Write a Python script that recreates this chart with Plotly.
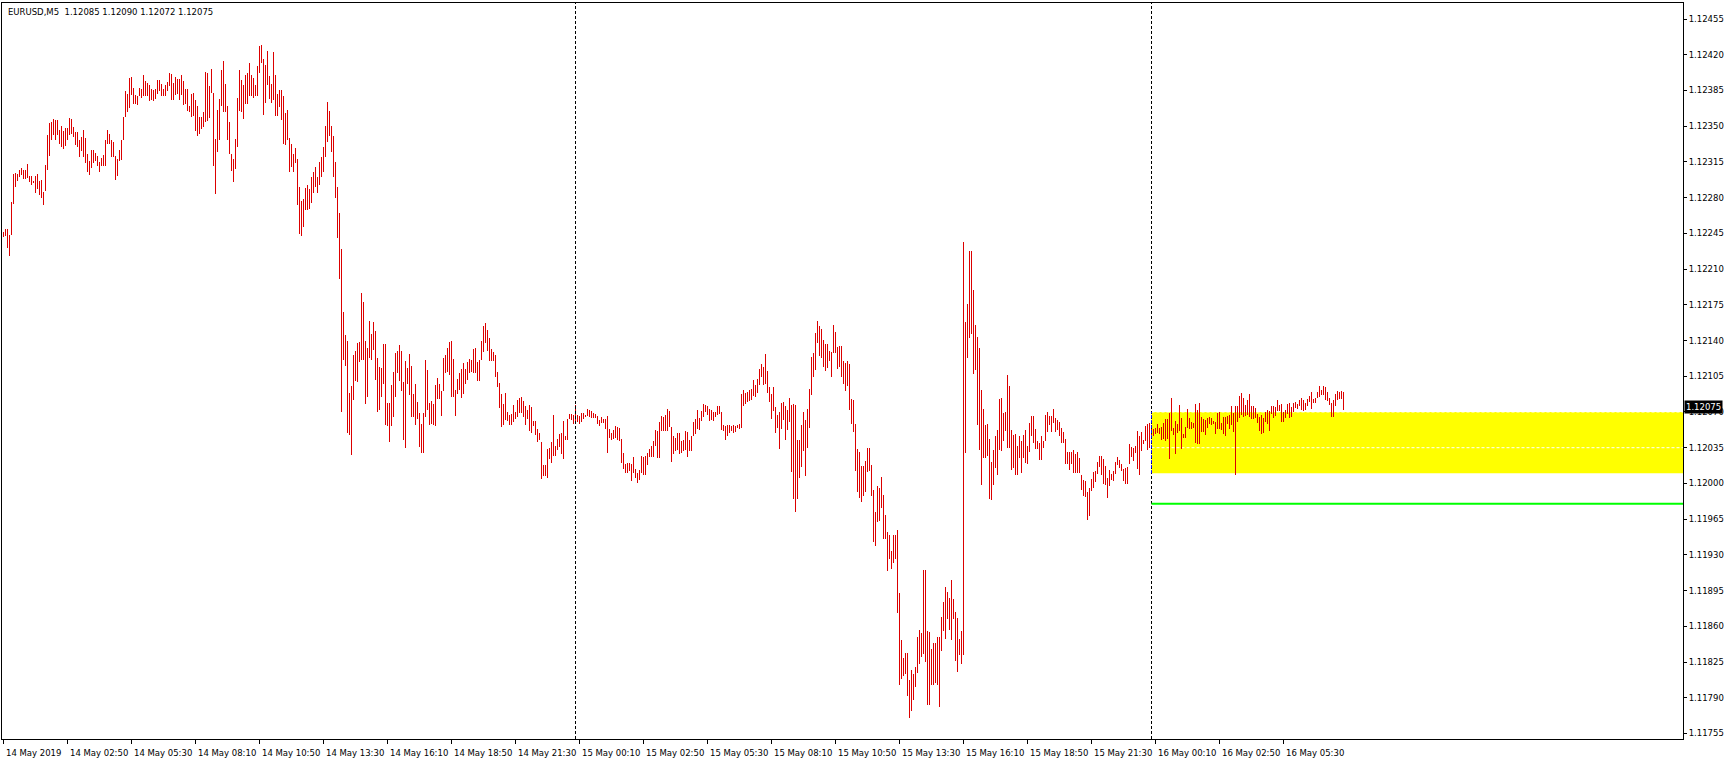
import plotly.graph_objects as go

# EURUSD M5, bar index 0 = 14 May 2019 00:10
# highs / lows in points above 1.11000 (1 point = 0.00001)
bar_high_pts = [
    1246, 1249, 1249, 1243, 1276, 1303, 1304, 1303, 1307, 1309,
    1307, 1307, 1313, 1301, 1301, 1296, 1301, 1303, 1296, 1297,
    1286, 1312, 1341, 1353, 1354, 1357, 1356, 1356, 1346, 1350,
    1345, 1348, 1348, 1358, 1357, 1349, 1344, 1344, 1336, 1339,
    1346, 1338, 1323, 1316, 1327, 1327, 1324, 1321, 1315, 1319,
    1322, 1336, 1346, 1342, 1336, 1335, 1321, 1318, 1327, 1336,
    1359, 1384, 1382, 1397, 1398, 1387, 1381, 1380, 1387, 1386,
    1400, 1394, 1392, 1390, 1386, 1385, 1386, 1395, 1395, 1391,
    1386, 1390, 1393, 1402, 1401, 1392, 1398, 1396, 1396, 1400,
    1394, 1386, 1386, 1370, 1382, 1383, 1376, 1370, 1359, 1359,
    1364, 1403, 1402, 1389, 1406, 1383, 1337, 1366, 1377, 1405,
    1414, 1391, 1370, 1354, 1323, 1318, 1337, 1378, 1405, 1395,
    1390, 1400, 1402, 1412, 1400, 1397, 1390, 1409, 1429, 1430,
    1416, 1410, 1424, 1399, 1391, 1423, 1400, 1382, 1385, 1385,
    1380, 1363, 1366, 1338, 1333, 1323, 1329, 1318, 1290, 1277,
    1279, 1289, 1292, 1288, 1300, 1305, 1310, 1300, 1315, 1320,
    1330, 1350, 1374, 1365, 1350, 1340, 1315, 1290, 1265, 1230,
    1168, 1145, 1140, 1089, 1095, 1126, 1130, 1138, 1139, 1187,
    1178, 1140, 1133, 1159, 1146, 1158, 1149, 1123, 1114, 1113,
    1137, 1137, 1079, 1079, 1096, 1109, 1128, 1130, 1136, 1130,
    1099, 1120, 1113, 1127, 1115, 1088, 1097, 1080, 1069, 1058,
    1069, 1121, 1111, 1079, 1081, 1078, 1096, 1103, 1097, 1091,
    1123, 1126, 1133, 1139, 1140, 1122, 1092, 1102, 1108, 1112,
    1118, 1112, 1119, 1122, 1121, 1132, 1133, 1119, 1121, 1140,
    1154, 1157, 1150, 1142, 1132, 1129, 1126, 1109, 1098, 1088,
    1078, 1089, 1070, 1067, 1068, 1077, 1070, 1082, 1084, 1085,
    1081, 1076, 1072, 1077, 1075, 1061, 1061, 1053, 1049, 1041,
    1018, 1018, 1034, 1035, 1041, 1067, 1037, 1044, 1048, 1049,
    1061, 1046, 1063, 1068, 1068, 1067, 1077, 1067, 1066, 1069,
    1069, 1067, 1073, 1072, 1071, 1069, 1068, 1066, 1062, 1065,
    1063, 1063, 1066, 1053, 1049, 1052, 1056, 1055, 1054, 1044,
    1030, 1019, 1020, 1020, 1019, 1026, 1014, 1010, 1013, 1027,
    1026, 1027, 1030, 1034, 1037, 1042, 1052, 1051, 1060, 1066,
    1065, 1067, 1073, 1071, 1055, 1046, 1045, 1049, 1049, 1042,
    1043, 1051, 1050, 1043, 1046, 1060, 1063, 1072, 1064, 1071,
    1078, 1077, 1076, 1073, 1072, 1070, 1070, 1076, 1076, 1070,
    1057, 1056, 1057, 1057, 1056, 1057, 1056, 1057, 1058, 1088,
    1092, 1089, 1090, 1092, 1093, 1101, 1096, 1102, 1112, 1117,
    1114, 1127, 1110, 1094, 1088, 1094, 1075, 1067, 1070, 1079,
    1080, 1076, 1072, 1084, 1077, 1078, 1077, 1043, 1043, 1057,
    1070, 1062, 1073, 1093, 1124, 1128, 1147, 1159, 1154, 1151,
    1141, 1137, 1137, 1130, 1129, 1155, 1148, 1134, 1135, 1135,
    1120, 1118, 1120, 1117, 1083, 1082, 1058, 1034, 1031, 1017,
    1017, 1022, 1035, 1035, 1018, 994, 972, 997, 996, 1006,
    989, 969, 952, 949, 934, 949, 949, 954, 893, 847,
    829, 834, 834, 807, 817, 813, 820, 850, 856, 853,
    915, 915, 855, 854, 838, 844, 844, 850, 850, 869,
    884, 899, 894, 888, 905, 887, 874, 868, 848, 855,
    1237, 1158, 1176, 1228, 1228, 1190, 1155, 1143, 1133, 1092,
    1073, 1057, 1058, 1044, 1021, 1033, 1046, 1052, 1083, 1084,
    1069, 1070, 1106, 1095, 1052, 1047, 1048, 1037, 1046, 1042,
    1047, 1052, 1037, 1059, 1066, 1066, 1053, 1042, 1040, 1046,
    1042, 1067, 1070, 1066, 1066, 1073, 1064, 1062, 1060, 1054,
    1050, 1044, 1031, 1031, 1031, 1033, 1029, 1031, 1025, 1008,
    1003, 1002, 992, 996, 1004, 1011, 1012, 1021, 1027, 1027,
    1024, 1017, 1005, 1013, 1009, 1012, 1021, 1026, 1023, 1019,
    1014, 1015, 1016, 1039, 1036, 1035, 1037, 1051, 1046, 1050,
    1043, 1056, 1058, 1059, 1057, 1053, 1054, 1058, 1054, 1055,
    1059, 1063, 1063, 1069, 1084, 1054, 1061, 1058, 1077, 1064,
    1048, 1055, 1073, 1064, 1060, 1059, 1078, 1072, 1079, 1065,
    1063, 1062, 1064, 1065, 1064, 1061, 1060, 1069, 1070, 1059,
    1065, 1065, 1066, 1067, 1076, 1069, 1076, 1076, 1086, 1089,
    1084, 1077, 1082, 1088, 1076, 1076, 1074, 1068, 1065, 1067,
    1064, 1070, 1072, 1071, 1076, 1076, 1075, 1082, 1077, 1078,
    1070, 1072, 1078, 1079, 1075, 1079, 1080, 1078, 1082, 1084,
    1082, 1079, 1083, 1086, 1090, 1083, 1084, 1090, 1095, 1092,
    1095, 1094, 1090, 1084, 1079, 1082, 1088, 1091, 1090, 1091,
    1090,
]
bar_low_pts = [
    1241, 1242, 1231, 1223, 1243, 1274, 1290, 1296, 1300, 1302,
    1298, 1298, 1299, 1295, 1292, 1294, 1285, 1288, 1283, 1280,
    1273, 1287, 1307, 1321, 1336, 1341, 1336, 1341, 1333, 1330,
    1328, 1331, 1336, 1341, 1342, 1339, 1332, 1330, 1320, 1326,
    1320, 1314, 1305, 1302, 1309, 1314, 1316, 1311, 1305, 1311,
    1311, 1311, 1333, 1333, 1320, 1320, 1297, 1301, 1316, 1317,
    1336, 1359, 1364, 1368, 1381, 1372, 1372, 1371, 1380, 1378,
    1380, 1380, 1380, 1375, 1376, 1375, 1377, 1382, 1384, 1380,
    1380, 1380, 1384, 1389, 1376, 1376, 1381, 1382, 1376, 1381,
    1371, 1372, 1365, 1364, 1359, 1360, 1345, 1340, 1342, 1347,
    1349, 1354, 1355, 1358, 1383, 1311, 1284, 1325, 1336, 1370,
    1364, 1364, 1336, 1323, 1306, 1295, 1308, 1330, 1365, 1364,
    1357, 1372, 1372, 1380, 1380, 1378, 1380, 1380, 1402, 1412,
    1361, 1373, 1390, 1377, 1373, 1376, 1360, 1360, 1369, 1356,
    1333, 1332, 1336, 1305, 1310, 1305, 1314, 1273, 1244, 1242,
    1251, 1268, 1268, 1269, 1275, 1285, 1290, 1285, 1292, 1300,
    1305, 1320, 1335, 1340, 1325, 1300, 1280, 1240, 1200, 1070,
    1121, 1115, 1049, 1047, 1028, 1082, 1100, 1099, 1119, 1121,
    1121, 1078, 1085, 1123, 1121, 1131, 1101, 1070, 1072, 1085,
    1097, 1057, 1056, 1041, 1056, 1065, 1085, 1108, 1100, 1091,
    1043, 1035, 1097, 1087, 1065, 1065, 1057, 1063, 1036, 1030,
    1030, 1065, 1072, 1057, 1058, 1057, 1056, 1083, 1083, 1066,
    1091, 1108, 1109, 1106, 1085, 1085, 1066, 1088, 1092, 1084,
    1088, 1097, 1101, 1108, 1109, 1108, 1108, 1100, 1100, 1121,
    1129, 1138, 1130, 1120, 1120, 1120, 1104, 1094, 1074, 1055,
    1057, 1062, 1061, 1057, 1057, 1060, 1063, 1065, 1069, 1069,
    1065, 1057, 1063, 1051, 1049, 1056, 1047, 1041, 1043, 1004,
    1007, 1007, 1005, 1024, 1020, 1027, 1027, 1033, 1036, 1029,
    1024, 1043, 1043, 1063, 1062, 1058, 1058, 1060, 1058, 1060,
    1063, 1065, 1066, 1065, 1064, 1064, 1064, 1058, 1056, 1059,
    1059, 1053, 1030, 1045, 1043, 1044, 1045, 1043, 1042, 1020,
    1014, 1010, 1010, 1012, 1002, 1010, 1005, 1000, 1003, 1010,
    1008, 1008, 1018, 1026, 1026, 1026, 1037, 1025, 1025, 1051,
    1051, 1051, 1051, 1055, 1021, 1029, 1032, 1033, 1029, 1030,
    1032, 1033, 1026, 1032, 1032, 1046, 1048, 1053, 1052, 1061,
    1065, 1070, 1067, 1061, 1062, 1061, 1065, 1067, 1068, 1052,
    1051, 1043, 1046, 1049, 1051, 1049, 1050, 1054, 1053, 1054,
    1076, 1078, 1080, 1081, 1082, 1086, 1085, 1089, 1096, 1104,
    1096, 1097, 1089, 1080, 1063, 1071, 1049, 1054, 1034, 1053,
    1062, 1043, 1052, 1060, 1011, 985, 972, 985, 1005, 1016,
    1032, 1007, 1035, 1054, 1087, 1104, 1111, 1138, 1125, 1123,
    1114, 1110, 1113, 1120, 1104, 1128, 1128, 1112, 1114, 1104,
    1097, 1091, 1095, 1072, 1058, 1050, 1012, 992, 986, 982,
    988, 992, 1011, 1012, 988, 943, 939, 962, 963, 976,
    946, 946, 914, 926, 916, 922, 926, 873, 803, 808,
    811, 813, 792, 770, 777, 788, 801, 814, 823, 830,
    833, 825, 783, 783, 803, 803, 804, 803, 781, 836,
    855, 848, 867, 856, 847, 867, 826, 815, 832, 823,
    832, 1030, 1123, 1142, 1146, 1107, 1111, 1057, 1033, 998,
    1025, 1025, 1027, 985, 984, 998, 1015, 1008, 1033, 1032,
    1042, 1051, 1035, 1035, 1013, 1015, 1008, 1008, 1025, 1010,
    1025, 1020, 1019, 1031, 1046, 1040, 1034, 1034, 1023, 1023,
    1035, 1042, 1050, 1057, 1050, 1059, 1050, 1052, 1046, 1040,
    1040, 1019, 1019, 1013, 1019, 1010, 1010, 1010, 1010, 994,
    988, 987, 964, 968, 993, 996, 1001, 1009, 1016, 1008,
    999, 998, 986, 997, 1003, 1002, 1009, 1018, 1015, 1012,
    1002, 999, 999, 1019, 1026, 1022, 1030, 1014, 1008, 1032,
    1039, 1042, 1033, 1035, 1047, 1046, 1048, 1049, 1048, 1043,
    1044, 1042, 1044, 1024, 1051, 1047, 1029, 1049, 1051, 1034,
    1045, 1045, 1054, 1053, 1053, 1054, 1040, 1039, 1039, 1050,
    1050, 1047, 1054, 1058, 1057, 1058, 1048, 1053, 1053, 1052,
    1048, 1046, 1058, 1053, 1057, 1050, 1008, 1060, 1064, 1067,
    1065, 1066, 1067, 1065, 1063, 1063, 1064, 1059, 1051, 1048,
    1049, 1060, 1058, 1051, 1068, 1064, 1066, 1071, 1071, 1060,
    1060, 1064, 1068, 1064, 1065, 1070, 1074, 1073, 1076, 1072,
    1071, 1072, 1076, 1080, 1073, 1079, 1079, 1084, 1085, 1087,
    1087, 1082, 1081, 1077, 1065, 1065, 1076, 1082, 1083, 1083,
    1072,
]
PRICE_BASE = 1.11
POINT = 0.00001

# time axis labels, one every 32 bars
x_tick_bars = [0, 32, 64, 96, 128, 160, 192, 224, 256, 288, 320,
               352, 384, 416, 448, 480, 512, 544, 576, 608, 640]
x_tick_labels = [
    "14 May 2019", "14 May 02:50", "14 May 05:30", "14 May 08:10", "14 May 10:50",
    "14 May 13:30", "14 May 16:10", "14 May 18:50", "14 May 21:30", "15 May 00:10",
    "15 May 02:50", "15 May 05:30", "15 May 08:10", "15 May 10:50", "15 May 13:30",
    "15 May 16:10", "15 May 18:50", "15 May 21:30", "16 May 00:10", "16 May 02:50",
    "16 May 05:30",
]
price_ticks = [1.11755, 1.11790, 1.11825, 1.11860, 1.11895, 1.11930, 1.11965,
               1.12000, 1.12035, 1.12070, 1.12105, 1.12140, 1.12175, 1.12210,
               1.12245, 1.12280, 1.12315, 1.12350, 1.12385, 1.12420, 1.12455]

day_separator_bars = [286, 574]
zone_start_bar = 574
zone_low, zone_mid, zone_high = 1.12010, 1.12035, 1.12070
green_level = 1.11980
last_price = 1.12075
header = "EURUSD,M5\u00a0 1.12085 1.12090 1.12072 1.12075"

FONT = "'DejaVu Sans', Tahoma, sans-serif"
FONT_SIZE = 8.5
BAR_RED = "rgb(220, 0, 0)"

x_min, x_max = -0.75, 839.75
y_min, y_max = 1.117496, 1.124707

xs, ys = [], []
for i, (h, l) in enumerate(zip(bar_high_pts, bar_low_pts)):
    xs += [i, i, None]
    ys += [PRICE_BASE + l * POINT, PRICE_BASE + h * POINT, None]

fig = go.Figure()
fig.add_trace(go.Scatter(
    x=xs, y=ys, mode="lines",
    line=dict(color=BAR_RED, width=1),
    hoverinfo="skip", showlegend=False,
))

shapes = [
    dict(type="rect", xref="x", yref="y", x0=zone_start_bar, x1=x_max,
         y0=zone_low, y1=zone_high, fillcolor="#FFFF00", line=dict(width=0), layer="below"),
    dict(type="line", xref="x", yref="y", x0=zone_start_bar, x1=x_max,
         y0=zone_high, y1=zone_high, line=dict(color="white", width=1, dash="3px,2px"), layer="below"),
    dict(type="line", xref="x", yref="y", x0=zone_start_bar, x1=x_max,
         y0=zone_mid, y1=zone_mid, line=dict(color="white", width=1, dash="3px,2px"), layer="below"),
]
for b in day_separator_bars:
    shapes.append(dict(type="line", xref="x", yref="paper", x0=b, x1=b, y0=0, y1=1,
                       line=dict(color="black", width=1, dash="3px,2px")))
shapes.append(dict(type="line", xref="x", yref="y", x0=zone_start_bar, x1=zone_start_bar,
                   y0=zone_low, y1=zone_high, line=dict(color="blue", width=1, dash="3px,2px")))
shapes.append(dict(type="line", xref="x", yref="y", x0=zone_start_bar, x1=x_max,
                   y0=green_level, y1=green_level, line=dict(color="#00FF00", width=2)))

annotations = [
    dict(x=b, y=0, xref="x", yref="paper", text=t, showarrow=False,
         xanchor="left", yanchor="middle", yshift=-14, xshift=0,
         font=dict(family=FONT, size=FONT_SIZE, color="black"))
    for b, t in zip(x_tick_bars, x_tick_labels)
]
annotations.append(dict(
    x=0, y=1, xref="paper", yref="paper", text=header, showarrow=False,
    xanchor="left", yanchor="top", xshift=4, yshift=-2,
    font=dict(family=FONT, size=FONT_SIZE, color="black"),
))
annotations.append(dict(
    x=1, y=last_price, xref="paper", yref="y", text=f"{last_price:.5f}", showarrow=False,
    xanchor="left", yanchor="middle", xshift=1, bgcolor="black", borderpad=1,
    font=dict(family=FONT, size=FONT_SIZE, color="white"),
))

fig.update_layout(
    width=1729, height=760,
    margin=dict(l=2, r=46, t=3, b=21),
    paper_bgcolor="white", plot_bgcolor="white",
    showlegend=False,
    shapes=shapes, annotations=annotations,
    xaxis=dict(
        range=[x_min, x_max], showgrid=False, zeroline=False,
        showline=True, mirror=True, linecolor="black", linewidth=1,
        tickmode="array", tickvals=x_tick_bars, showticklabels=False,
        ticks="outside", ticklen=4, tickcolor="black", tickwidth=1,
        fixedrange=True,
    ),
    yaxis=dict(
        range=[y_min, y_max], side="right", showgrid=False, zeroline=False,
        showline=True, mirror=True, linecolor="black", linewidth=1,
        tickmode="array", tickvals=price_ticks,
        ticktext=[f"{v:.5f}" for v in price_ticks],
        ticks="outside", ticklen=3, tickcolor="black", tickwidth=1,
        tickfont=dict(family=FONT, size=FONT_SIZE, color="black"),
        fixedrange=True,
    ),
)

# zero body margin so the chart fills the 1729x760 window; bars drawn pixel-crisp
fig.write_html(
    "out.html",
    config={"displayModeBar": False},
    post_script=(
        "document.body.style.margin='0px';"
        "document.querySelectorAll('.scatterlayer path').forEach("
        "function(p){p.style.shapeRendering='crispEdges';});"
    ),
)
